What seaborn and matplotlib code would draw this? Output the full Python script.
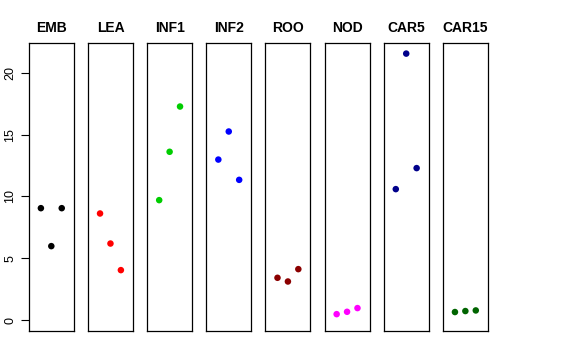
import numpy as np
import pandas as pd
import matplotlib
matplotlib.use("Agg")
import matplotlib.pyplot as plt
import seaborn as sns

tissues = ["EMB", "LEA", "INF1", "INF2", "ROO", "NOD", "CAR5", "CAR15"]
colors = ["#000000", "#FF0000", "#00CD00", "#0000FF",
          "#8B0000", "#FF00FF", "#00008B", "#006400"]
rep = [1, 2, 3]
emb = [9.05, 5.98, 9.05]
lea = [8.62, 6.19, 4.04]
inf1 = [9.70, 13.61, 17.27]
inf2 = [12.98, 15.25, 11.34]
roo = [3.42, 3.12, 4.12]
nod = [0.48, 0.67, 0.97]
car5 = [10.59, 21.55, 12.29]
car15 = [0.65, 0.73, 0.78]
values = [emb, lea, inf1, inf2, roo, nod, car5, car15]

sns.set_style("white")
plt.rcParams['font.family'] = ['Liberation Sans', 'DejaVu Sans']
plt.rcParams['text.color'] = 'black'
plt.rcParams['axes.labelcolor'] = 'black'
plt.rcParams['ytick.color'] = 'black'

fig, axes = plt.subplots(1, 8, figsize=(5.76, 3.6), dpi=100, sharey=True)
fig.subplots_adjust(left=0.050, right=0.847, top=0.881, bottom=0.081, wspace=0.314)

for i, ax in enumerate(axes):
    df = pd.DataFrame({'rep': rep, 'value': values[i]})
    sns.scatterplot(data=df, x='rep', y='value', ax=ax, color=colors[i],
                    s=22, edgecolor='none', legend=False)
    ax.set_xlim(-0.16, 4.16)
    ax.set_ylim(-0.87, 22.42)
    ax.set_title(tissues[i], fontsize=10, fontweight='bold', pad=8, color='black')
    ax.set_xlabel('')
    ax.set_ylabel('')
    ax.set_xticks([])
    for sp in ax.spines.values():
        sp.set_visible(True)
        sp.set_color('black')
        sp.set_linewidth(0.9)
    if i == 0:
        ax.set_yticks([0, 5, 10, 15, 20])
        ax.tick_params(axis='y', left=True, length=6, width=0.8, labelsize=9,
                       pad=3, labelrotation=90, colors='black')
        for lab in ax.get_yticklabels():
            lab.set_verticalalignment('center')
    else:
        ax.tick_params(axis='y', left=False, labelleft=False)

plt.savefig('out.png', dpi=100)
plt.close()
